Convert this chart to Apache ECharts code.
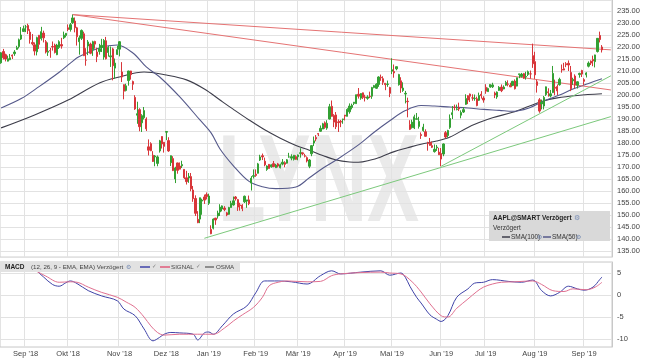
<!DOCTYPE html>
<html><head><meta charset="utf-8">
<script src="https://cdn.jsdelivr.net/npm/echarts@6/dist/echarts.min.js"></script>
<style>html,body{margin:0;padding:0;background:#fff}#c{width:645px;height:363px}</style>
</head><body><div id="c"></div>
<script>
// ---- categories (trading days per month) ----
const monthLabels = ["Aug '18","Sep '18","Okt '18","Nov '18","Dez '18","Jan '19","Feb '19","Mär '19","Apr '19","Mai '19","Jun '19","Jul '19","Aug '19","Sep '19"];
const monthTradingDays = [11,19,23,21,19,21,19,21,21,22,20,22,22,9];
const emptyTrailingDays = 4;

// ---- daily candles [open, close, low, high] ----
const aug18 = [[213.4,217.6,213.0,217.9],[218.1,215.5,214.8,219.2],[216.8,215.0,214.0,217.2],[214.1,215.1,214.0,216.4],[214.7,215.5,214.5,217.1],[216.6,216.2,215.0,216.9],[217.2,217.9,216.3,218.7],[219.0,219.7,218.9,220.5],[220.2,223.0,219.4,223.5],[223.3,225.0,222.9,228.3],[226.5,227.6,226.4,228.9]];
const sep18 = [[228.4,228.4,226.2,229.2],[229.0,226.9,225.4,229.7],[226.2,223.1,221.4,227.4],[221.9,221.3,220.7,225.4],[220.9,218.3,216.5,221.9],[218.0,223.9,216.5,224.3],[224.9,221.1,219.2,225.0],[223.5,226.4,222.7,228.4],[225.8,223.8,221.9,226.8],[222.2,217.9,217.3,222.9],[217.8,218.2,216.3,221.9],[218.5,218.4,215.5,219.6],[220.2,220.0,218.5,222.3],[220.8,217.7,217.3,221.4],[216.8,220.8,216.6,221.3],[219.8,222.2,219.2,222.8],[221.0,220.4,219.3,223.8],[223.8,225.0,223.3,226.4],[224.8,225.7,224.0,225.8]];
const okt18 = [[228.0,227.3,226.6,229.4],[227.3,229.3,226.4,230.0],[230.1,232.1,229.6,233.5],[230.8,228.0,226.1,232.3],[228.0,224.3,220.6,228.4],[222.2,223.8,216.8,224.8],[223.6,226.9,222.9,227.3],[225.5,216.4,216.2,226.4],[214.5,214.5,212.2,219.5],[220.4,222.1,216.6,222.9],[221.2,217.4,217.0,221.8],[218.9,222.2,216.3,222.6],[222.3,221.2,219.3,222.6],[217.9,216.0,213.7,219.7],[218.1,219.3,216.8,221.3],[219.8,220.7,217.9,223.4],[215.8,222.7,214.7,223.3],[222.6,215.1,214.8,224.2],[217.7,219.8,216.0,220.4],[215.9,216.3,211.7,220.2],[219.2,212.2,206.1,219.7],[211.2,213.3,206.8,215.2],[216.9,218.9,216.7,220.5]];
const nov18 = [[219.1,222.2,216.1,222.4],[209.6,207.5,205.4,213.7],[204.3,201.6,198.2,204.4],[201.9,203.8,201.5,204.7],[206.0,210.0,203.9,210.1],[210.0,208.5,206.4,210.1],[205.6,204.5,202.1,206.0],[199.0,194.2,193.8,199.9],[191.6,192.2,188.0,197.2],[193.9,186.8,184.9,194.5],[188.4,191.4,184.6,192.0],[190.5,193.5,189.8,195.0],[190.0,185.9,185.0,190.7],[178.4,177.0,174.8,181.5],[179.7,176.8,176.6,180.3],[174.9,172.3,172.1,176.6],[174.2,174.6,170.3,175.0],[171.5,174.2,170.3,174.8],[176.7,180.9,176.0,181.3],[182.7,179.6,177.7,182.8],[180.3,178.6,176.0,180.3]];
const dez18 = [[184.5,184.8,181.2,184.9],[181.0,176.7,176.3,182.4],[171.8,174.7,170.4,174.8],[173.5,168.5,168.3,174.5],[165.0,169.6,163.3,170.1],[171.7,168.6,167.2,171.8],[170.4,169.1,169.0,171.9],[170.5,171.0,169.6,172.6],[169.0,165.5,165.0,169.1],[165.5,163.9,162.7,168.4],[165.4,166.1,163.4,167.5],[166.0,160.9,159.9,167.5],[160.4,156.8,155.5,162.1],[156.9,150.7,149.6,158.2],[148.2,146.8,146.6,151.6],[148.3,157.2,146.6,157.2],[155.8,156.2,150.1,156.8],[157.5,156.2,154.6,158.5],[158.5,157.7,156.5,159.4]];
const jan19 = [[154.9,157.9,154.2,158.9],[144.0,142.2,142.0,145.7],[144.5,148.3,144.0,148.6],[148.7,147.9,145.9,148.8],[149.6,150.8,148.5,151.8],[151.3,153.3,149.6,154.5],[152.5,153.8,151.5,154.0],[152.9,152.3,151.6,153.7],[150.9,150.0,149.5,151.3],[150.3,153.1,150.1,153.4],[153.1,154.9,153.1,155.9],[154.2,155.9,153.9,157.7],[157.5,156.8,156.0,157.9],[156.4,153.3,151.7,156.7],[154.2,153.9,151.8,155.1],[154.1,152.7,151.6,154.5],[155.5,157.8,155.0,158.1],[155.8,156.3,153.0,156.3],[156.3,154.7,154.1,158.1],[163.3,165.3,160.2,166.2],[166.1,166.4,165.2,169.0]];
const feb19 = [[167.0,166.5,165.9,169.0],[167.4,171.3,167.3,171.7],[172.9,174.2,172.5,175.1],[174.7,174.2,172.9,175.6],[172.4,170.9,170.3,173.9],[169.0,170.4,168.4,170.7],[171.1,169.4,169.3,171.2],[170.1,170.9,169.7,171.0],[171.4,170.2,169.9,172.5],[169.7,170.8,169.6,171.3],[171.3,170.4,169.8,171.7],[169.7,170.9,169.4,171.4],[171.2,172.0,170.7,173.3],[171.8,171.1,169.9,172.4],[171.6,173.0,171.4,173.3],[174.2,174.2,173.9,175.9],[173.7,174.3,172.8,175.3],[173.2,174.9,172.7,175.0],[174.3,173.2,173.0,174.9]];
const mar19 = [[174.3,175.0,172.8,175.2],[175.7,175.9,173.9,177.8],[175.9,175.5,174.9,176.0],[174.7,174.5,174.0,175.5],[173.9,172.5,171.9,174.4],[170.3,172.9,169.5,173.3],[175.5,178.9,174.5,179.1],[180.0,180.9,178.7,182.7],[182.3,181.7,180.7,183.3],[183.9,183.7,182.9,184.1],[184.9,186.1,184.7,187.3],[185.8,188.0,185.8,188.4],[188.4,186.5,185.9,189.0],[186.2,188.2,185.5,189.5],[190.0,195.1,189.8,196.3],[195.3,191.1,191.0,197.7],[191.5,188.7,186.6,192.0],[191.7,186.8,185.8,192.9],[188.8,188.5,184.6,189.8],[189.0,188.7,186.6,189.6],[189.8,190.0,188.0,190.1]];
const apr19 = [[191.6,191.2,189.4,191.7],[191.1,194.0,191.1,194.5],[193.0,195.4,192.2,196.5],[194.8,195.7,194.0,196.4],[196.5,197.0,195.8,197.1],[196.4,200.1,196.3,200.2],[200.3,199.5,198.5,202.9],[198.7,200.6,198.0,200.7],[200.9,199.0,198.3,201.0],[199.2,198.9,197.3,200.1],[198.6,199.2,198.0,199.9],[199.5,199.3,198.7,201.4],[199.5,203.1,198.4,203.4],[203.1,203.9,202.8,204.2],[202.8,204.5,202.5,204.9],[204.4,207.5,203.4,207.8],[207.4,207.2,205.9,208.5],[206.8,205.3,204.2,207.8],[204.9,204.3,202.0,205.0],[204.4,204.6,203.4,206.0],[203.1,200.7,199.1,203.4]];
const mai19 = [[209.9,210.5,208.7,215.3],[209.8,209.2,207.2,212.7],[210.9,211.8,210.3,211.8],[204.3,208.5,203.9,208.8],[205.9,202.9,200.9,207.4],[201.9,202.9,201.3,205.3],[200.4,200.7,196.5,201.7],[197.4,197.2,190.7,198.9],[187.7,185.7,185.4,189.5],[186.4,188.7,186.0,189.7],[186.3,190.9,185.8,191.8],[189.9,190.1,189.8,192.5],[186.9,189.0,186.0,190.9],[183.5,183.1,181.7,184.4],[185.2,186.6,184.7,188.0],[184.7,182.8,182.6,185.7],[179.8,179.7,176.8,180.5],[180.2,179.0,178.9,182.1],[178.9,178.2,177.9,180.6],[176.4,177.4,176.0,179.4],[178.0,178.3,176.7,179.2],[176.2,175.1,175.0,178.0]];
const jun19 = [[175.6,173.3,170.3,177.9],[175.4,179.6,174.5,179.8],[184.3,182.5,181.9,185.0],[183.1,185.2,182.2,185.5],[186.5,190.2,185.9,191.9],[191.8,192.6,190.0,195.4],[194.9,194.8,193.6,196.0],[194.0,194.2,193.6,196.0],[194.7,194.2,193.3,196.8],[191.6,192.7,190.3,193.6],[192.9,193.9,192.5,195.0],[196.1,198.5,195.9,200.3],[199.7,197.9,196.2,199.9],[200.4,199.5,197.1,200.6],[198.8,198.8,197.6,200.3],[198.5,198.6,197.6,200.2],[198.4,195.6,195.3,199.3],[197.8,199.8,197.5,201.0],[200.3,199.7,198.5,201.6],[198.7,197.9,196.8,199.5]];
const jul19 = [[203.2,201.6,200.5,204.5],[201.4,202.7,201.4,203.1],[203.3,204.4,203.0,204.4],[203.4,204.2,202.9,205.1],[200.8,200.0,198.7,201.4],[199.2,201.2,198.4,201.5],[201.9,203.2,201.7,203.7],[203.3,201.8,201.2,204.4],[202.5,203.3,202.4,204.0],[204.1,205.2,203.8,205.9],[204.6,204.5,203.6,206.1],[204.1,203.4,203.3,205.1],[204.0,205.7,203.7,205.9],[205.8,202.6,202.3,206.5],[203.7,207.2,203.6,207.2],[208.5,208.8,207.0,208.9],[207.7,208.7,207.3,209.2],[208.9,207.0,206.7,209.2],[207.5,207.7,206.4,209.7],[208.5,209.7,207.9,210.2],[208.8,208.8,206.8,210.2],[216.4,213.0,211.3,221.4]];
const aug19 = [[213.9,208.4,206.7,218.0],[205.5,204.0,201.0,206.4],[198.0,193.3,192.6,198.7],[196.3,197.0,194.0,198.1],[195.4,199.0,194.0,199.6],[200.2,203.4,199.6,203.5],[201.3,201.0,199.3,202.8],[199.6,200.5,199.0,202.1],[201.0,209.0,200.8,212.1],[203.2,202.8,199.9,206.4],[203.5,201.7,200.0,204.4],[204.3,206.5,203.9,207.2],[210.6,210.4,209.3,212.7],[210.9,210.4,210.3,213.4],[213.0,212.6,211.6,213.7],[213.2,212.5,210.0,214.4],[209.4,202.6,201.6,212.1],[205.9,206.5,204.2,207.2],[207.9,204.2,202.8,208.6],[204.1,205.5,202.7,205.7],[208.5,209.0,207.2,209.3],[210.2,208.7,207.5,210.5]];
const sep19 = [[206.4,205.7,204.2,207.0],[208.4,209.2,207.3,209.5],[212.0,213.3,211.5,214.0],[214.1,213.3,212.5,214.4],[214.8,214.2,212.0,216.4],[213.9,216.7,211.5,216.8],[218.1,223.6,217.7,223.7],[224.8,223.1,221.9,226.4],[220.0,218.8,217.7,220.8]];

// ---- moving averages [dayIndex, value] ----
const sma50 = [[0,194.6],[9,198.5],[17,203.5],[26,209.5],[31,213.3],[35,216.0],[44,219.6],[52,220.8],[59,217.5],[65,211.7],[71,207.5],[80,199.2],[89,189.6],[94,184.2],[98,177.5],[104,170.5],[111,164.0],[117,161.8],[123,161.0],[132,161.7],[138,165.5],[144,169.5],[150,172.9],[160,179.2],[167,184.5],[174,189.3],[181,193.5],[188,195.6],[194,195.4],[201,195.0],[209,194.6],[216,194.0],[223,193.6],[229,193.2],[236,194.5],[244,197.9],[250,200.0],[256,202.5],[263,204.8],[269,206.8]];
const sma100 = [[0,186.3],[15,191.7],[30,197.9],[44,205.0],[53,207.5],[64,209.6],[74,208.3],[83,206.3],[91,202.5],[98,197.9],[104,194.0],[111,189.6],[118,185.5],[125,182.0],[132,179.0],[138,177.0],[144,174.8],[150,172.9],[156,172.1],[160,172.0],[165,172.8],[170,174.2],[176,176.4],[182,178.0],[188,179.5],[195,180.8],[201,182.5],[209,186.5],[214,188.5],[220,190.5],[229,192.8],[236,195.2],[242,197.3],[249,198.8],[258,199.8],[269,200.5]];

// ---- trend lines [dayIndex, value] ----
const resistanceTop = [[32,233.5],[273,218.8]];
const resistanceLow = [[32,233.5],[273,202.1]];
const supportLong = [[91,140.3],[273,191.0]];
const supportShort = [[197,170.3],[273,208.0]];

// ---- MACD (12,26,9) [dayIndex, value] ----
const macdLine = [[0,5.8],[6,6.0],[11,6.6],[14,6.4],[17,5.0],[19,4.1],[23,2.4],[26,2.0],[29,2.8],[31,3.2],[34,2.6],[39,1.0],[45,-0.2],[52,-1.3],[55,-3.2],[60,-4.7],[64,-7.7],[68,-10.4],[71,-9.6],[73,-8.9],[76,-8.5],[80,-8.6],[86,-8.9],[88,-10.2],[91,-8.6],[93,-8.4],[95,-8.9],[99,-7.0],[104,-4.3],[110,-2.5],[114,0.5],[118,3.2],[124,3.2],[130,3.0],[137,2.5],[143,4.4],[148,5.5],[152,4.8],[161,5.2],[170,5.5],[174,4.5],[179,5.0],[181,4.0],[183,2.0],[186,-0.5],[188,-1.8],[192,-4.5],[195,-5.5],[197,-6.0],[200,-4.7],[204,-0.5],[209,1.4],[212,2.7],[216,2.9],[220,3.5],[227,3.1],[233,2.9],[238,3.4],[242,1.0],[246,-0.2],[250,0.6],[254,2.0],[258,1.4],[261,1.1],[265,1.8],[268,3.5],[269,4.1]];
const signalLine = [[0,5.9],[8,6.1],[15,5.5],[20,4.3],[26,2.9],[31,3.0],[34,2.9],[39,1.8],[45,0.6],[52,-0.5],[56,-1.6],[60,-2.8],[64,-5.0],[67,-7.0],[70,-8.5],[73,-9.1],[80,-8.9],[88,-8.9],[95,-8.9],[100,-7.5],[104,-5.9],[108,-4.5],[113,-2.8],[117,-0.5],[120,2.1],[124,2.9],[128,3.2],[137,3.0],[143,3.1],[148,4.4],[152,4.8],[161,5.1],[170,5.2],[174,5.0],[179,4.8],[184,3.0],[188,0.7],[192,-2.0],[197,-4.7],[200,-5.0],[204,-3.0],[209,-0.9],[213,0.8],[216,1.8],[220,2.5],[224,2.9],[230,3.0],[238,3.2],[242,2.4],[247,1.0],[252,0.8],[256,1.4],[262,1.2],[266,1.8],[269,2.9]];

// ---- build ----
const candles = [].concat(aug18,sep18,okt18,nov18,dez18,jan19,feb19,mar19,apr19,mai19,jun19,jul19,aug19,sep19);
const cats = [], monthStart = [];
monthLabels.forEach((m, k) => {
  for (let d = 0; d < monthTradingDays[k]; d++) { cats.push(m + '|' + d); monthStart.push(d === 0 && k > 0); }
});
for (let d = 0; d < emptyTrailingDays; d++) { cats.push('pad|' + d); monthStart.push(false); }

const FONT = '"Liberation Sans", Arial, sans-serif';
const gridColor = '#e2e2e2';
const L = -2, R = 33;

const chart = echarts.init(document.getElementById('c'), null, {renderer: 'canvas'});
const lineS = (data, color, xi, width) => ({type: 'line', xAxisIndex: xi, yAxisIndex: xi, data, showSymbol: false, symbol: 'none', smooth: 0.35, lineStyle: {color, width: width || 1}, z: 3, silent: true});
const trend = (data, color) => ({type: 'line', xAxisIndex: 0, yAxisIndex: 0, data, showSymbol: false, symbol: 'none', lineStyle: {color, width: 1}, z: 4, silent: true});

chart.setOption({
  animation: false,
  backgroundColor: '#ffffff',
  textStyle: {fontFamily: FONT},
  grid: [
    {left: L, right: R, top: 0, height: 257, show: true, borderColor: '#d0d0d0', borderWidth: 1},
    {left: L, right: R, top: 262, height: 85, show: true, borderColor: '#c8c8c8', borderWidth: 1}
  ],
  xAxis: [
    {type: 'category', gridIndex: 0, data: cats, boundaryGap: true,
     axisLabel: {show: false}, axisTick: {show: false}, axisLine: {show: false},
     splitLine: {show: true, interval: (i) => monthStart[i], lineStyle: {color: gridColor, width: 1}}},
    {type: 'category', gridIndex: 1, data: cats, boundaryGap: true,
     axisLabel: {interval: (i) => monthStart[i], formatter: (v) => v.split('|')[0], fontSize: 7.5, color: '#444', margin: 3, fontFamily: FONT},
     axisTick: {show: false}, axisLine: {show: false},
     splitLine: {show: true, interval: (i) => monthStart[i], lineStyle: {color: gridColor, width: 1}}}
  ],
  yAxis: [
    {type: 'value', gridIndex: 0, position: 'right', min: 132.5, max: 239.58, minInterval: 5, maxInterval: 5,
     axisLabel: {formatter: (v) => v.toFixed(2), showMinLabel: false, showMaxLabel: false, fontSize: 7.5, color: '#444', margin: 5, fontFamily: FONT},
     axisTick: {show: false}, axisLine: {show: true, lineStyle: {color: '#c8c8c8'}},
     splitLine: {show: true, lineStyle: {color: gridColor, width: 1}}},
    {type: 'value', gridIndex: 1, position: 'right', min: -11.8, max: 7.5, minInterval: 5, maxInterval: 5,
     axisLabel: {formatter: (v) => String(Math.round(v)), showMinLabel: false, showMaxLabel: false, fontSize: 7.5, color: '#444', margin: 5, fontFamily: FONT},
     axisTick: {show: false}, axisLine: {show: true, lineStyle: {color: '#c8c8c8'}},
     splitLine: {show: true, lineStyle: {color: gridColor, width: 1}}}
  ],
  graphic: [
    {type: 'text', left: 218, top: 125, z: -10, zlevel: 0, silent: true, scaleX: 0.63,
     style: {text: 'LYNX', font: 'bold 124px ' + FONT, fill: '#eaeaea'}},
    // main legend box
    {type: 'rect', shape: {x: 489, y: 211, width: 121, height: 30}, style: {fill: '#d9d9d9'}, z: 50},
    {type: 'text', x: 493, y: 218, z: 51, style: {text: 'AAPL@SMART Verzögert', font: 'bold 6.5px ' + FONT, fill: '#1e1e1e', textVerticalAlign: 'middle'}},
    {type: 'text', x: 574, y: 218, z: 51, style: {text: '⚙', font: '7px DejaVu Sans', fill: '#7b8fb5', textVerticalAlign: 'middle'}},
    {type: 'text', x: 493, y: 228, z: 51, style: {text: 'Verzögert', font: '6.5px ' + FONT, fill: '#333', textVerticalAlign: 'middle'}},
    {type: 'line', shape: {x1: 502, y1: 237, x2: 510, y2: 237}, style: {stroke: '#3d3d4a', lineWidth: 1.5}, z: 51},
    {type: 'text', x: 511, y: 237, z: 51, style: {text: 'SMA(100)', font: '6.5px ' + FONT, fill: '#333', textVerticalAlign: 'middle'}},
    {type: 'text', x: 532, y: 237, z: 51, style: {text: '✓', font: '6px DejaVu Sans', fill: '#777', textVerticalAlign: 'middle'}},
    {type: 'text', x: 537, y: 237, z: 51, style: {text: '⚙', font: '6px DejaVu Sans', fill: '#7b8fb5', textVerticalAlign: 'middle'}},
    {type: 'line', shape: {x1: 543, y1: 237, x2: 551, y2: 237}, style: {stroke: '#55598a', lineWidth: 1.5}, z: 51},
    {type: 'text', x: 552, y: 237, z: 51, style: {text: 'SMA(50)', font: '6.5px ' + FONT, fill: '#333', textVerticalAlign: 'middle'}},
    {type: 'text', x: 570, y: 237, z: 51, style: {text: '✓', font: '6px DejaVu Sans', fill: '#777', textVerticalAlign: 'middle'}},
    {type: 'text', x: 576, y: 237, z: 51, style: {text: '⚙', font: '6px DejaVu Sans', fill: '#7b8fb5', textVerticalAlign: 'middle'}},
    // MACD legend box
    {type: 'rect', shape: {x: 0, y: 262, width: 240, height: 10}, style: {fill: '#e2e2e2'}, z: 50},
    {type: 'text', x: 5, y: 267, z: 51, style: {text: 'MACD', font: 'bold 6.5px ' + FONT, fill: '#1e1e1e', textVerticalAlign: 'middle'}},
    {type: 'text', x: 31, y: 267, z: 51, style: {text: '(12, 26, 9 - EMA, EMA) Verzögert', font: '6.2px ' + FONT, fill: '#444', textVerticalAlign: 'middle'}},
    {type: 'text', x: 126, y: 267, z: 51, style: {text: '⚙', font: '6px DejaVu Sans', fill: '#7b8fb5', textVerticalAlign: 'middle'}},
    {type: 'line', shape: {x1: 140, y1: 267, x2: 150, y2: 267}, style: {stroke: '#3f43a8', lineWidth: 1.5}, z: 51},
    {type: 'text', x: 152, y: 267, z: 51, style: {text: '✓', font: '5.5px DejaVu Sans', fill: '#777', textVerticalAlign: 'middle'}},
    {type: 'line', shape: {x1: 160, y1: 267, x2: 170, y2: 267}, style: {stroke: '#e05a7a', lineWidth: 1.5}, z: 51},
    {type: 'text', x: 171, y: 267, z: 51, style: {text: 'SIGNAL', font: '6.2px ' + FONT, fill: '#444', textVerticalAlign: 'middle'}},
    {type: 'text', x: 196, y: 267, z: 51, style: {text: '✓', font: '5.5px DejaVu Sans', fill: '#777', textVerticalAlign: 'middle'}},
    {type: 'line', shape: {x1: 205, y1: 267, x2: 214, y2: 267}, style: {stroke: '#555', lineWidth: 1.2}, z: 51},
    {type: 'text', x: 216, y: 267, z: 51, style: {text: 'OSMA', font: '6.2px ' + FONT, fill: '#444', textVerticalAlign: 'middle'}}
  ],
  series: [
    {type: 'candlestick', xAxisIndex: 0, yAxisIndex: 0, data: candles, barWidth: 1.8, z: 5, silent: true,
     itemStyle: {color: '#33a033', color0: '#d8363a', borderColor: '#33a033', borderColor0: '#d8363a', borderWidth: 1}},
    lineS(sma100, '#3d3d4a', 0, 1.1),
    lineS(sma50, '#55598a', 0, 1.1),
    trend(resistanceTop, '#e57373'),
    trend(resistanceLow, '#e57373'),
    trend(supportLong, '#7cc97c'),
    trend(supportShort, '#7cc97c'),
    lineS(macdLine, '#3f43a8', 1, 1),
    lineS(signalLine, '#e07090', 1, 1)
  ]
});
</script></body></html>
